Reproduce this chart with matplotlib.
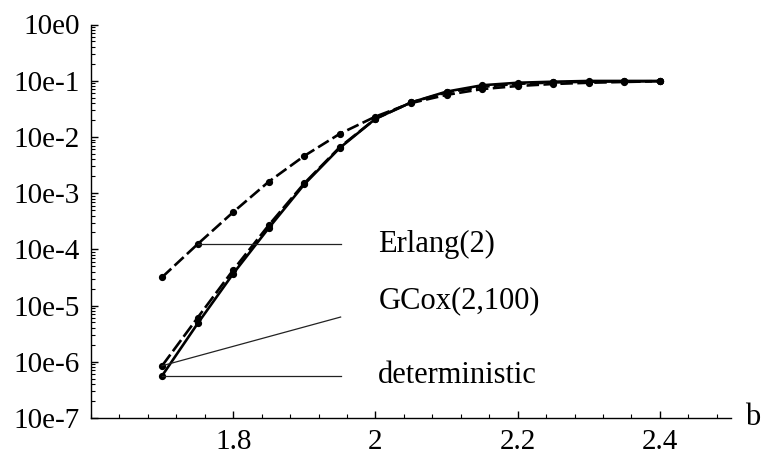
import matplotlib
matplotlib.use("Agg")
import matplotlib.pyplot as plt
from matplotlib.ticker import FixedLocator, LogLocator, MultipleLocator, NullFormatter

plt.rcParams['font.family'] = ['Liberation Serif', 'DejaVu Serif']
plt.rcParams['lines.scale_dashes'] = False

b = [1.7, 1.75, 1.8, 1.85, 1.9, 1.95, 2.0, 2.05, 2.1, 2.15, 2.2, 2.25, 2.3, 2.35, 2.4]
erlang = [3.2e-5, 1.24e-4, 4.6e-4, 1.6e-3, 4.6e-3, 1.14e-2, 2.3e-2, 4.0e-2, 5.6e-2,
          7.1e-2, 8.05e-2, 8.75e-2, 9.2e-2, 9.5e-2, 9.8e-2]
gcox = [8.5e-7, 6.1e-6, 4.3e-5, 2.7e-4, 1.5e-3, 6.6e-3, 2.1e-2, 4.1e-2, 6.2e-2,
        7.8e-2, 8.8e-2, 9.3e-2, 9.6e-2, 9.7e-2, 9.8e-2]
deterministic = [5.65e-7, 4.8e-6, 3.7e-5, 2.4e-4, 1.44e-3, 6.4e-3, 2.1e-2, 4.1e-2, 6.4e-2,
                 8.3e-2, 9.2e-2, 9.6e-2, 9.9e-2, 9.9e-2, 9.9e-2]

x_ticks = [1.8, 2.0, 2.2, 2.4]
x_ticklabels = ["1.8", "2", "2.2", "2.4"]
y_ticks = [1e0, 1e-1, 1e-2, 1e-3, 1e-4, 1e-5, 1e-6, 1e-7]
y_ticklabels = ["10e0", "10e-1", "10e-2", "10e-3", "10e-4", "10e-5", "10e-6", "10e-7"]

labels = ["Erlang(2)", "GCox(2,100)", "deterministic"]
label_anchor_idx = [1, 0, 0]
label_line_end = [1.24e-4, 6.25e-6, 5.65e-7]
label_text_y = [1.24e-4, 1.2e-5, 5.65e-7]

W, H = 764, 462
fig = plt.figure(figsize=(W / 100, H / 100), dpi=100)
ax = fig.add_axes([91 / W, (H - 418) / H, (731 - 91) / W, (418 - 24.5) / H])

ax.set_yscale('log')
ax.set_xlim(1.6, 2.5)
ax.set_ylim(1e-7, 1e0)

lw = 1.9
ms = 4.2
ax.plot(b, erlang, color='black', lw=lw, linestyle=(0, (9, 3.2)), marker='o', ms=ms)
ax.plot(b, gcox, color='black', lw=lw, linestyle=(0, (10, 3)), marker='o', ms=ms)
ax.plot(b, deterministic, color='black', lw=lw, linestyle='-', marker='o', ms=ms)

series = [erlang, gcox, deterministic]
for lab, idx, yend, ytxt, s in zip(labels, label_anchor_idx, label_line_end, label_text_y, series):
    ax.plot([b[idx], 1.951], [s[idx], yend], color='#222222', lw=0.9)
    ax.text(2.004, ytxt, lab, fontsize=22, va='center', ha='left')

for side in ['top', 'right']:
    ax.spines[side].set_visible(False)
for side in ['left', 'bottom']:
    ax.spines[side].set_linewidth(1.0)

ax.xaxis.set_major_locator(FixedLocator(x_ticks))
ax.set_xticklabels(x_ticklabels)
ax.xaxis.set_minor_locator(MultipleLocator(0.04))
ax.yaxis.set_major_locator(FixedLocator(y_ticks))
ax.set_yticklabels(y_ticklabels)
ax.yaxis.set_minor_locator(LogLocator(base=10, subs=[2, 3, 4, 5, 6, 7, 8, 9], numticks=20))
ax.yaxis.set_minor_formatter(NullFormatter())

ax.tick_params(axis='both', which='major', direction='in', length=5, width=1.0, labelsize=21, pad=8)
ax.tick_params(axis='both', which='minor', direction='in', length=3, width=0.8)

ax.text(2.52, 1e-7, "b", fontsize=22, va='center', ha='left')

fig.savefig("out.png", dpi=100)
